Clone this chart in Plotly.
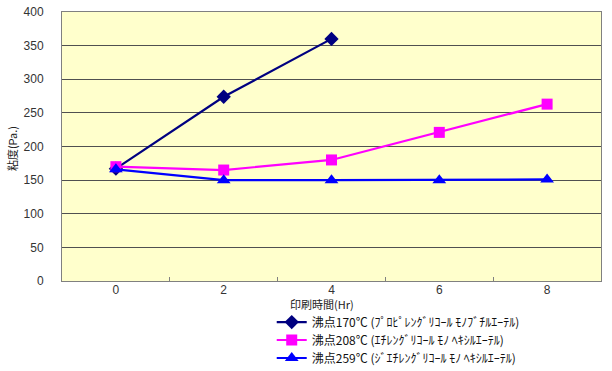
import plotly.graph_objects as go

hours = ["0", "2", "4", "6", "8"]
s1_name = "沸点170℃ (ﾌﾟﾛﾋﾟﾚﾝｸﾞﾘｺｰﾙ ﾓﾉﾌﾞﾁﾙｴｰﾃﾙ)"
s2_name = "沸点208℃ (ｴﾁﾚﾝｸﾞﾘｺｰﾙ ﾓﾉ ﾍｷｼﾙｴｰﾃﾙ)"
s3_name = "沸点259℃ (ｼﾞｴﾁﾚﾝｸﾞﾘｺｰﾙ ﾓﾉ ﾍｷｼﾙｴｰﾃﾙ)"
s1_hours = ["0", "2", "4"]
s1_vals = [167, 274, 360]
s2_vals = [170, 165, 180, 221, 263]
s3_vals = [166, 150, 150, 150, 151]
y_ticks = [0, 50, 100, 150, 200, 250, 300, 350, 400]
x_title = "印刷時間(Hr)"
y_title = "粘度(Pa.)"

CJK = "Noto Sans CJK JP, sans-serif"
NUM = "Liberation Sans, Arial, sans-serif"

W, H = 612, 371

fig = go.Figure()
fig.add_trace(go.Scatter(x=s1_hours, y=s1_vals, name=s1_name, mode="lines+markers",
                         legend="legend",
                         line=dict(color="#000080", width=2.2),
                         marker=dict(symbol="diamond", size=11, color="#000080")))
fig.add_trace(go.Scatter(x=hours, y=s2_vals, name=s2_name, mode="lines+markers",
                         legend="legend2",
                         line=dict(color="#FF00FF", width=2.2),
                         marker=dict(symbol="square", size=11, color="#FF00FF")))
fig.add_trace(go.Scatter(x=hours, y=s3_vals, name=s3_name, mode="lines+markers",
                         legend="legend3",
                         line=dict(color="#0000FF", width=2.2),
                         marker=dict(symbol="triangle-up", size=12, color="#0000FF")))

def leg(yc):
    return dict(xref="container", yref="container", x=0.444, y=yc,
                xanchor="left", yanchor="middle",
                font=dict(family=CJK, size=12, color="#111111"),
                bgcolor="rgba(0,0,0,0)", itemwidth=30)

fig.update_layout(
    width=W, height=H,
    margin=dict(l=62, r=11, t=12, b=90, autoexpand=False),
    paper_bgcolor="white",
    plot_bgcolor="#FFFFCC",
    font=dict(family=CJK, size=12, color="#222222"),
    showlegend=True,
    legend=leg(0.132),
    legend2=leg(0.0836),
    legend3=leg(0.035),
    xaxis=dict(type="category", categoryorder="array", categoryarray=hours,
               range=[-0.5, 4.5], showgrid=False, ticks="inside", tickson="boundaries",
               ticklen=4, tickcolor="#808080", showline=True, linecolor="#808080",
               mirror=True, zeroline=False, automargin=False,
               ticklabelstandoff=-2,
               tickfont=dict(family=NUM, size=12, color="#333333")),
    yaxis=dict(range=[0, 400], tickvals=y_ticks, showgrid=True, gridcolor="#505050",
               gridwidth=1, showline=True, linecolor="#808080", mirror=True,
               zeroline=False, ticks="", automargin=False,
               ticklabelstandoff=15, ticklabeloverflow="allow",
               tickfont=dict(family=NUM, size=12, color="#333333")),
    annotations=[
        dict(text=x_title, xref="paper", yref="paper", x=0.482, y=-0.085,
             xanchor="center", yanchor="middle", showarrow=False,
             font=dict(family=CJK, size=11, color="#222222")),
        dict(text=y_title, xref="paper", yref="paper", x=-0.0928, y=0.494,
             xanchor="center", yanchor="middle", showarrow=False, textangle=-90,
             font=dict(family=CJK, size=11, color="#222222")),
    ],
)

fig.write_html("out.html",
               config={"displayModeBar": False},
               post_script="document.body.style.margin='0px';")
